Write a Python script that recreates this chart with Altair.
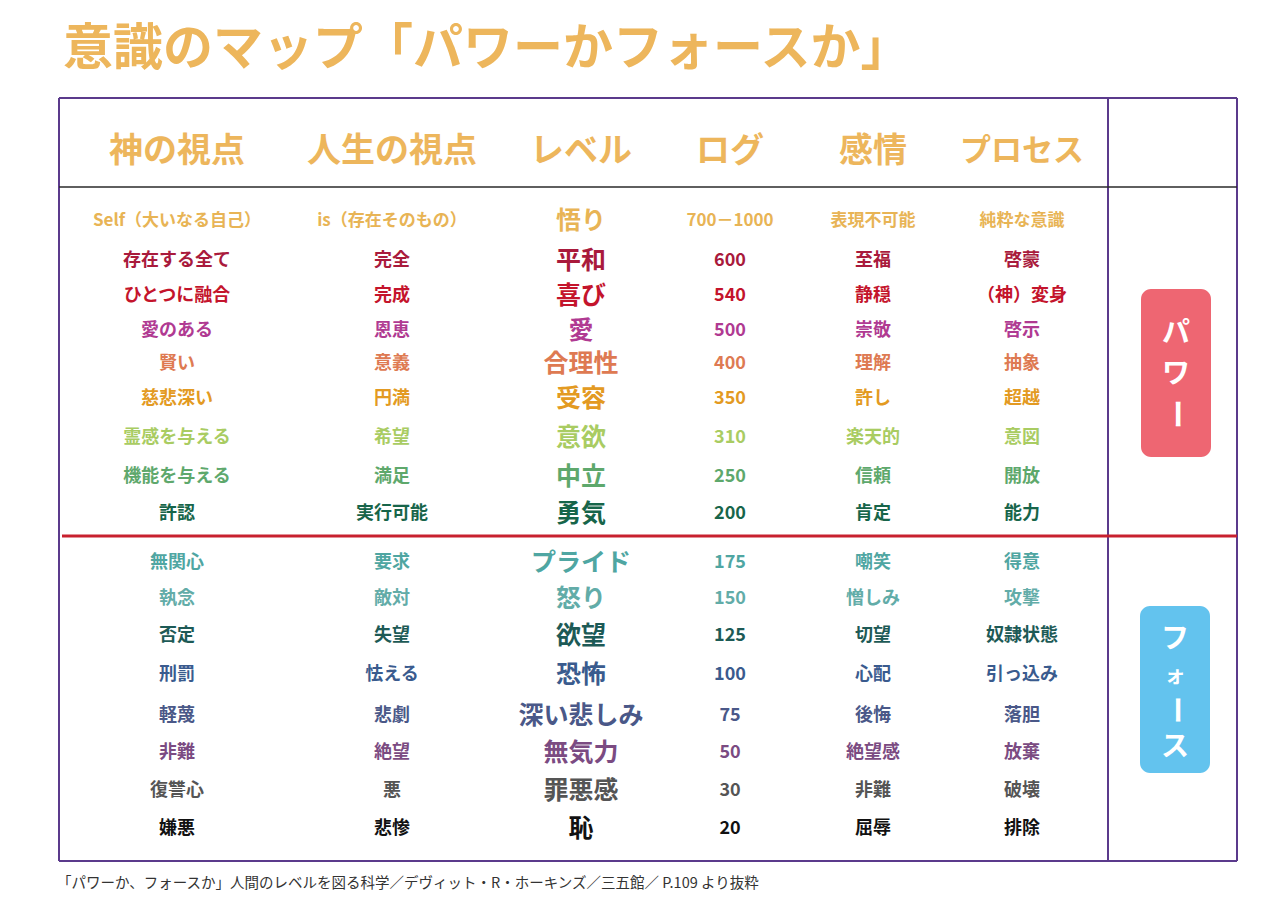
import altair as alt
import pandas as pd

# ---------------- data ----------------
title_text = "意識のマップ「パワーかフォースか」"
footer_text = "「パワーか、フォースか」人間のレベルを図る科学／デヴィット・R・ホーキンズ／三五館／ P.109 より抜粋"

headers = ["神の視点", "人生の視点", "レベル", "ログ", "感情", "プロセス"]

god_view = ["Self（大いなる自己）", "存在する全て", "ひとつに融合", "愛のある", "賢い", "慈悲深い",
            "霊感を与える", "機能を与える", "許認", "無関心", "執念", "否定", "刑罰", "軽蔑",
            "非難", "復讐心", "嫌悪"]
life_view = ["is（存在そのもの）", "完全", "完成", "恩恵", "意義", "円満", "希望", "満足", "実行可能",
             "要求", "敵対", "失望", "怯える", "悲劇", "絶望", "悪", "悲惨"]
level = ["悟り", "平和", "喜び", "愛", "合理性", "受容", "意欲", "中立", "勇気", "プライド", "怒り",
         "欲望", "恐怖", "深い悲しみ", "無気力", "罪悪感", "恥"]
log_value = ["700－1000", "600", "540", "500", "400", "350", "310", "250", "200", "175", "150",
             "125", "100", "75", "50", "30", "20"]
emotion = ["表現不可能", "至福", "静穏", "崇敬", "理解", "許し", "楽天的", "信頼", "肯定", "嘲笑",
           "憎しみ", "切望", "心配", "後悔", "絶望感", "非難", "屈辱"]
process = ["純粋な意識", "啓蒙", "（神）変身", "啓示", "抽象", "超越", "意図", "開放", "能力", "得意",
           "攻撃", "奴隷状態", "引っ込み", "落胆", "放棄", "破壊", "排除"]

badge_power = ["パ", "ワ", "ー"]
badge_force = ["フ", "ォ", "ー", "ス"]

# ---------------- layout / style ----------------
W, H = 1264, 889
FONT = "Noto Sans CJK JP"
COL_X = [177, 392, 581, 730, 873, 1022]
HEADER_Y = 152
HEADER_SIZE = [34, 34, 34, 34, 34, 31]
ROW_Y = [221, 261, 296, 331, 364, 399, 438, 477, 514,
         563, 599, 636, 675, 716, 753, 791, 829]
ROW_COLORS = ["#E8B455", "#A91A3C", "#C4142C", "#B03A92", "#DE7A52", "#E39A22", "#A9CC62",
              "#5EA86C", "#17654A",
              "#4FA6A2", "#62ACA8", "#1D5A56", "#3A5B8E", "#4A5888", "#7B4B82", "#555555",
              "#111111"]
GOLD = "#EDB65C"
PURPLE = "#5B3A8C"

columns = [god_view, life_view, level, log_value, emotion, process]
rows = []
for j, col in enumerate(columns):
    for i, t in enumerate(col):
        size = 25 if j == 2 else 18
        if i == 0 and j != 2:
            size = 17
        rows.append({"text": t, "x": COL_X[j], "y": ROW_Y[i], "color": ROW_COLORS[i], "size": size})
cells = pd.DataFrame(rows)

head_df = pd.DataFrame({"text": headers, "x": COL_X, "y": [HEADER_Y] * 6, "size": HEADER_SIZE})

xs = alt.Scale(domain=[8, 8 + W], nice=False, zero=False)
ys = alt.Scale(domain=[8, 8 + H], nice=False, zero=False, reverse=True)


def X(f="x"):
    return alt.X(f"{f}:Q", scale=xs, axis=None)


def Y(f="y"):
    return alt.Y(f"{f}:Q", scale=ys, axis=None)


title = alt.Chart(pd.DataFrame({"text": [title_text], "x": [63], "y": [50]})).mark_text(
    font=FONT, fontSize=50, fontWeight="bold", color=GOLD, align="left", baseline="middle"
).encode(x=X(), y=Y(), text="text:N")

footer = alt.Chart(pd.DataFrame({"text": [footer_text], "x": [57], "y": [884]})).mark_text(
    font=FONT, fontSize=14.5, color="#333333", align="left", baseline="middle"
).encode(x=X(), y=Y(), text="text:N")

# frame lines
frame_df = pd.DataFrame([
    {"x": 59, "x2": 1237, "y": 98, "y2": 98, "c": PURPLE, "w": 2},
    {"x": 59, "x2": 1237, "y": 861, "y2": 861, "c": PURPLE, "w": 2},
    {"x": 59, "x2": 59, "y": 98, "y2": 861, "c": PURPLE, "w": 2},
    {"x": 1237, "x2": 1237, "y": 98, "y2": 861, "c": PURPLE, "w": 2},
    {"x": 1108, "x2": 1108, "y": 98, "y2": 861, "c": PURPLE, "w": 2},
    {"x": 59, "x2": 1237, "y": 187, "y2": 187, "c": "#2A2A2A", "w": 1.5},
    {"x": 62, "x2": 1237, "y": 536, "y2": 536, "c": "#C8202E", "w": 3},
])
frame = alt.Chart(frame_df).mark_rule().encode(
    x=X(), x2="x2:Q", y=Y(), y2="y2:Q",
    color=alt.Color("c:N", scale=None),
    strokeWidth=alt.StrokeWidth("w:Q", scale=None),
)

headers_layer = alt.Chart(head_df).mark_text(
    font=FONT, fontWeight="bold", color=GOLD, align="center", baseline="middle"
).encode(x=X(), y=Y(), text="text:N", size=alt.Size("size:Q", scale=None))

cells_layer = alt.Chart(cells).mark_text(
    font=FONT, fontWeight="bold", align="center", baseline="middle"
).encode(x=X(), y=Y(), text="text:N",
         color=alt.Color("color:N", scale=None),
         size=alt.Size("size:Q", scale=None))

# badges
badge_df = pd.DataFrame([
    {"x": 1141, "x2": 1211, "y": 289, "y2": 457, "c": "#EE6672"},
    {"x": 1140, "x2": 1210, "y": 606, "y2": 773, "c": "#63C3EE"},
])
badges = alt.Chart(badge_df).mark_rect(cornerRadius=10).encode(
    x=X(), x2="x2:Q", y=Y(), y2="y2:Q", color=alt.Color("c:N", scale=None)
)

# vertical writing, one character per line (long-vowel mark turned upright)
power_y = [334, 375, 414]
power_size = [28, 28, 30]
force_y = [640, 676, 710, 748]
force_size = [28, 21, 28, 28]
chars = []
for t, y, s in zip(badge_power, power_y, power_size):
    chars.append({"text": t, "x": 1176, "y": y, "angle": 90 if t == "ー" else 0, "size": s})
for t, y, s in zip(badge_force, force_y, force_size):
    chars.append({"text": t, "x": 1175, "y": y, "angle": 90 if t == "ー" else 0, "size": s})
chars_df = pd.DataFrame(chars)
badge_text = alt.Chart(chars_df).mark_text(
    font=FONT, fontWeight="bold", color="white", align="center", baseline="middle"
).encode(x=X(), y=Y(), text="text:N",
         angle=alt.Angle("angle:Q", scale=None),
         size=alt.Size("size:Q", scale=None))

chart = alt.layer(frame, title, headers_layer, cells_layer, badges, badge_text, footer).properties(
    width=W, height=H, padding=0, autosize=alt.AutoSizeParams(type="none"),
    background="white"
).configure_view(stroke=None)

chart.save("out.html", embed_options={"renderer": "svg", "actions": False})
